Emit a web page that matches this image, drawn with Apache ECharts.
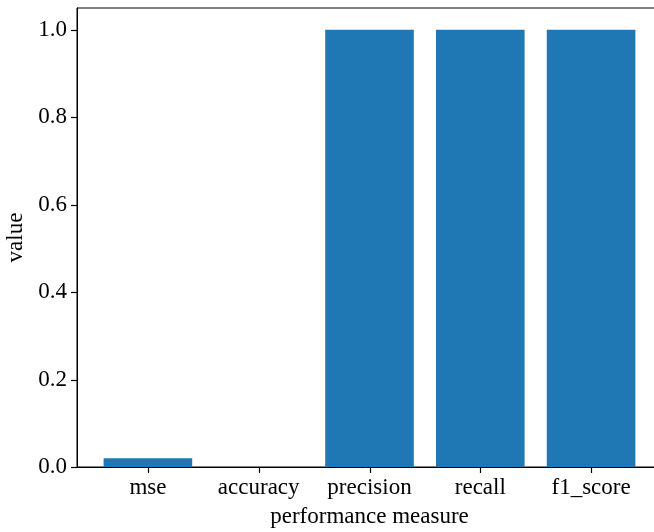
<!DOCTYPE html>
<html><head><meta charset="utf-8">
<script src="https://cdn.jsdelivr.net/npm/echarts@6/dist/echarts.min.js"></script>
<style>html,body{margin:0;padding:0;background:#fff}#c{width:654px;height:532px}</style>
</head><body><div id="c"></div>
<script>
const categories = ['mse', 'accuracy', 'precision', 'recall', 'f1_score'];
const values = [0.02, 0.0, 1.0, 1.0, 1.0];
const yTicks = [0, 0.2, 0.4, 0.6, 0.8, 1.0];
// x axis runs in category units; pad is the margin before the first category
const pad = 0.64;
const xTicks = categories.map((_, i) => i + pad);

const font = 'Liberation Serif, Times New Roman, serif';
const chart = echarts.init(document.getElementById('c'), null, {renderer: 'canvas'});
chart.setOption({
  animation: false,
  grid: {left: 77, top: 8, right: -8, bottom: 65, show: true, borderColor: '#000', borderWidth: 1,
    containLabel: false, outerBoundsMode: 'none'},
  xAxis: {
    type: 'value', min: 0, max: categories.length - 1 + 2 * pad,
    name: 'performance measure', nameLocation: 'middle', nameGap: 38,
    nameTextStyle: {fontFamily: font, fontSize: 23, color: '#000'},
    axisLine: {show: true, lineStyle: {color: '#000', width: 1}},
    axisTick: {show: false},
    axisLabel: {customValues: xTicks, margin: 9, fontFamily: font, fontSize: 23, color: '#000',
      formatter: v => categories[Math.round(v - pad)] ?? ''},
    splitLine: {show: false}
  },
  yAxis: {
    type: 'value', min: 0, max: 1.05,
    name: 'value', nameLocation: 'middle', nameGap: 37, nameRotate: 90,
    nameTextStyle: {fontFamily: font, fontSize: 23, color: '#000'},
    axisLine: {show: true, lineStyle: {color: '#000', width: 1}},
    axisTick: {show: false},
    axisLabel: {customValues: yTicks, margin: 10, fontFamily: font, fontSize: 23, color: '#000',
      formatter: v => v.toFixed(1)},
    splitLine: {show: false}
  },
  series: [{
    type: 'bar',
    data: values.map((v, i) => [i + pad, v]),
    barWidth: 88.6,
    itemStyle: {color: '#1f77b4'}
  }]
});

// Outward tick marks, positioned through the axes' own scales
const tickLen = 6;
const tickStyle = {stroke: '#000', lineWidth: 1.2};
const ticks = [];
xTicks.forEach(v => {
  const p = chart.convertToPixel({gridIndex: 0}, [v, 0]);
  const x = Math.round(p[0]) + 0.5;
  ticks.push({type: 'line', silent: true, z: 100,
    shape: {x1: x, y1: p[1], x2: x, y2: p[1] + tickLen}, style: tickStyle});
});
yTicks.forEach(v => {
  const p = chart.convertToPixel({gridIndex: 0}, [0, v]);
  const y = Math.round(p[1]) + 0.5;
  ticks.push({type: 'line', silent: true, z: 100,
    shape: {x1: p[0] - tickLen, y1: y, x2: p[0], y2: y}, style: tickStyle});
});
chart.setOption({graphic: ticks});
</script></body></html>
